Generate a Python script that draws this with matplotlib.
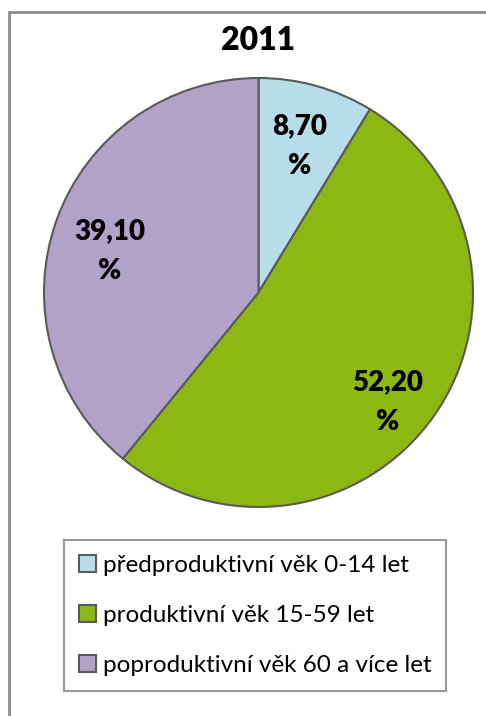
import numpy as np
import matplotlib
matplotlib.use("Agg")
import matplotlib.pyplot as plt
from matplotlib.patches import Rectangle

# data
title = "2011"
categories = ["předproduktivní věk 0-14 let",
              "produktivní věk 15-59 let",
              "poproduktivní věk 60 a více let"]
shares = [8.7, 52.2, 39.1]
colors = ["#B7DEE8", "#8DB713", "#B2A2C7"]

plt.rcParams['font.family'] = ['Lato', 'DejaVu Sans']

W, H = 486, 716
fig = plt.figure(figsize=(W / 100, H / 100), dpi=100)

# outer frame (only top and left edge are inside the picture)
fig.patches.append(Rectangle((9 / W, -0.1), 1.2, 1 - 12 / H + 0.1,
                             transform=fig.transFigure, fill=False,
                             edgecolor="#8C8C8C", linewidth=2.0))

# pie axes, centre and radius in pixels
cx, cy, r = 258.5, 716 - 292.5, 214.5
ax = fig.add_axes([(cx - r) / W, (cy - r) / H, 2 * r / W, 2 * r / H])
wedges, _ = ax.pie(shares, colors=colors, startangle=90, counterclock=False,
                   radius=1.0,
                   wedgeprops=dict(edgecolor="#5A5A5A", linewidth=1.5))
ax.set_xlim(-1, 1)
ax.set_ylim(-1, 1)
ax.set_aspect("equal")
ax.axis("off")

# data labels
label_r = [0.71, 0.79, 0.72]
label_shift = [0, -5, 4]  # degrees
for w, v, lr, sh in zip(wedges, shares, label_r, label_shift):
    ang = np.deg2rad((w.theta1 + w.theta2) / 2 + sh)
    txt = f"{v:.2f}".replace(".", ",") + "\n%"
    ax.text(lr * np.cos(ang), lr * np.sin(ang), txt, ha="center", va="center",
            fontsize=20, fontweight="heavy", linespacing=1.65)

fig.text(cx / W, 1 - 40 / H, title, ha="center", va="center",
         fontsize=23, fontweight="heavy")

leg = fig.legend(wedges, categories, loc="upper left",
                 bbox_to_anchor=(64 / W, 1 - 540 / H), borderaxespad=0,
                 frameon=True, fancybox=False, fontsize=17.5,
                 handlelength=0.7, handleheight=0.7, handletextpad=0.3,
                 labelspacing=1.2, borderpad=0.6)
leg.get_frame().set_edgecolor("#7F7F7F")
leg.get_frame().set_linewidth(1.5)

fig.savefig("out.png", dpi=100)
